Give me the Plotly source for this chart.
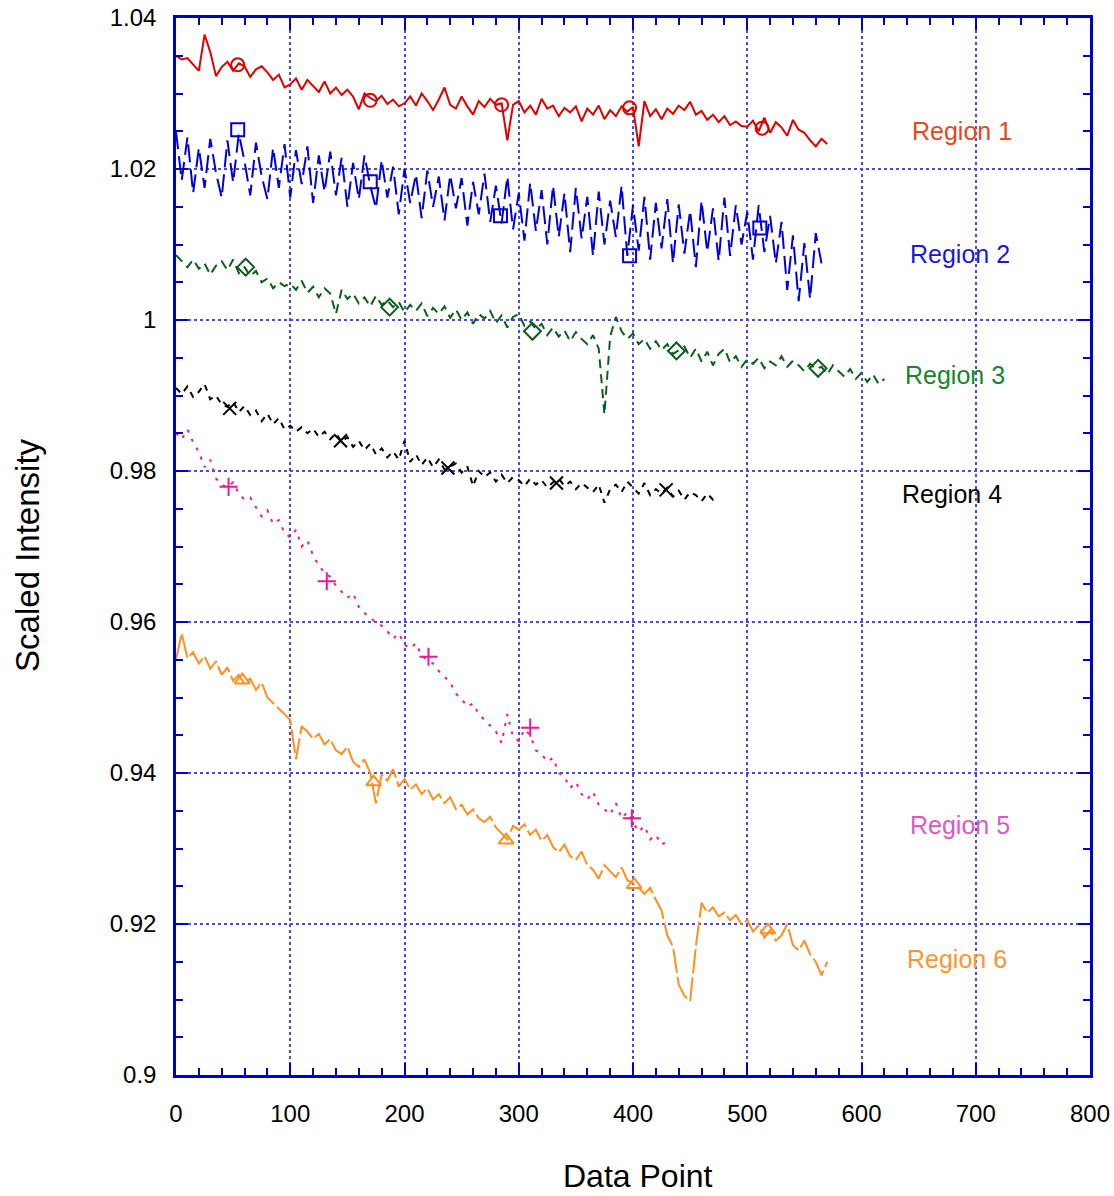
import plotly.graph_objects as go

STEP = 5

region1 = [
    1.0350, 1.0345, 1.0347, 1.0338, 1.0330, 1.0378, 1.0355, 1.0323, 1.0335, 1.0342,
    1.0330, 1.0340, 1.0336, 1.0322, 1.0332, 1.0336, 1.0328, 1.0318, 1.0325, 1.0308,
    1.0312, 1.0320, 1.0305, 1.0318, 1.0310, 1.0302, 1.0316, 1.0300, 1.0308, 1.0298,
    1.0305, 1.0296, 1.0279, 1.0300, 1.0294, 1.0290, 1.0297, 1.0286, 1.0292, 1.0283,
    1.0287, 1.0296, 1.0284, 1.0300, 1.0290, 1.0278, 1.0292, 1.0308, 1.0285, 1.0280,
    1.0296, 1.0283, 1.0272, 1.0290, 1.0282, 1.0293, 1.0285, 1.0287, 1.0238, 1.0285,
    1.0290, 1.0275, 1.0284, 1.0272, 1.0293, 1.0280, 1.0284, 1.0270, 1.0281, 1.0275,
    1.0283, 1.0263, 1.0280, 1.0272, 1.0284, 1.0266, 1.0278, 1.0270, 1.0283, 1.0276,
    1.0282, 1.0230, 1.0290, 1.0270, 1.0279, 1.0266, 1.0280, 1.0273, 1.0284, 1.0278,
    1.0289, 1.0272, 1.0277, 1.0265, 1.0272, 1.0262, 1.0270, 1.0258, 1.0263, 1.0257,
    1.0256, 1.0264, 1.0250, 1.0268, 1.0248, 1.0262, 1.0255, 1.0244, 1.0265, 1.0252,
    1.0248, 1.0238, 1.0230, 1.0240, 1.0233,
]

region2 = [
    1.0250, 1.0185, 1.0242, 1.0168, 1.0228, 1.0175, 1.0240, 1.0195, 1.0162, 1.0238,
    1.0182, 1.0247, 1.0210, 1.0165, 1.0235, 1.0190, 1.0160, 1.0228, 1.0175, 1.0233,
    1.0162, 1.0225, 1.0180, 1.0230, 1.0155, 1.0218, 1.0170, 1.0223, 1.0165, 1.0215,
    1.0150, 1.0208, 1.0160, 1.0218, 1.0178, 1.0148, 1.0212, 1.0162, 1.0203, 1.0140,
    1.0200, 1.0155, 1.0193, 1.0135, 1.0198, 1.0150, 1.0190, 1.0132, 1.0192, 1.0148,
    1.0188, 1.0125, 1.0183, 1.0140, 1.0194, 1.0130, 1.0178, 1.0128, 1.0190, 1.0120,
    1.0168, 1.0105, 1.0182, 1.0118, 1.0172, 1.0100, 1.0178, 1.0110, 1.0168, 1.0090,
    1.0175, 1.0108, 1.0163, 1.0085, 1.0170, 1.0100, 1.0158, 1.0110, 1.0178, 1.0085,
    1.0152, 1.0092, 1.0163, 1.0080, 1.0155, 1.0095, 1.0160, 1.0075, 1.0153, 1.0088,
    1.0145, 1.0070, 1.0158, 1.0090, 1.0148, 1.0078, 1.0162, 1.0085, 1.0152, 1.0100,
    1.0143, 1.0080, 1.0152, 1.0090, 1.0138, 1.0075, 1.0130, 1.0040, 1.0112, 1.0025,
    1.0102, 1.0028, 1.0115, 1.0075,
]

region3 = [
    1.0086, 1.0078, 1.0070, 1.0080, 1.0068, 1.0075, 1.0060, 1.0072, 1.0078, 1.0066,
    1.0080, 1.0062, 1.0070, 1.0058, 1.0065, 1.0050, 1.0055, 1.0042, 1.0050, 1.0045,
    1.0048, 1.0040, 1.0052, 1.0036, 1.0044, 1.0030, 1.0042, 1.0035, 1.0008, 1.0040,
    1.0028, 1.0035, 1.0022, 1.0030, 1.0018, 1.0032, 1.0020, 1.0026, 1.0017, 1.0024,
    1.0010, 1.0020, 1.0012, 1.0022, 1.0005, 1.0016, 1.0008, 1.0018, 1.0003, 1.0014,
    1.0000, 1.0010, 0.9995, 1.0008, 1.0002, 1.0012, 0.9996, 1.0006, 0.9990, 1.0004,
    1.0008, 0.9992, 0.9998, 0.9988, 0.9995, 0.9980, 0.9990, 0.9978, 0.9986, 0.9972,
    0.9984, 0.9975, 0.9968, 0.9980, 0.9962, 0.9875, 0.9978, 1.0004, 0.9985, 0.9975,
    0.9982, 0.9968, 0.9975, 0.9962, 0.9972, 0.9960, 0.9968, 0.9955, 0.9960, 0.9965,
    0.9950, 0.9962, 0.9945, 0.9958, 0.9940, 0.9955, 0.9962, 0.9944, 0.9952, 0.9938,
    0.9948, 0.9942, 0.9950, 0.9936, 0.9945, 0.9940, 0.9952, 0.9938, 0.9946, 0.9940,
    0.9932, 0.9942, 0.9935, 0.9938, 0.9928, 0.9940, 0.9932, 0.9925, 0.9935, 0.9922,
    0.9930, 0.9918, 0.9928, 0.9915, 0.9922,
]

region4 = [
    0.9910, 0.9902, 0.9912, 0.9898, 0.9905, 0.9915, 0.9895, 0.9900, 0.9888, 0.9885,
    0.9892, 0.9878, 0.9886, 0.9874, 0.9880, 0.9866, 0.9876, 0.9862, 0.9870, 0.9855,
    0.9860, 0.9852, 0.9858, 0.9850, 0.9856, 0.9845, 0.9852, 0.9842, 0.9850, 0.9838,
    0.9845, 0.9832, 0.9840, 0.9828, 0.9836, 0.9822, 0.9830, 0.9818, 0.9826, 0.9815,
    0.9840, 0.9812, 0.9822, 0.9808, 0.9818, 0.9805, 0.9815, 0.9802, 0.9806, 0.9810,
    0.9798, 0.9806, 0.9780, 0.9800, 0.9792, 0.9798, 0.9786, 0.9795, 0.9784, 0.9792,
    0.9788, 0.9780, 0.9790, 0.9782, 0.9788, 0.9778, 0.9785, 0.9790, 0.9780, 0.9786,
    0.9776, 0.9784, 0.9778, 0.9772, 0.9782, 0.9758, 0.9776, 0.9782, 0.9772, 0.9786,
    0.9778, 0.9770, 0.9784, 0.9768, 0.9776, 0.9770, 0.9778, 0.9766, 0.9774, 0.9762,
    0.9772, 0.9768, 0.9760, 0.9770, 0.9762, 0.9766,
]

region5 = [
    0.9850, 0.9842, 0.9855, 0.9838, 0.9825, 0.9805, 0.9815, 0.9790, 0.9782, 0.9778,
    0.9785, 0.9770, 0.9762, 0.9765, 0.9752, 0.9740, 0.9748, 0.9730, 0.9735, 0.9718,
    0.9712, 0.9722, 0.9700, 0.9708, 0.9688, 0.9675, 0.9665, 0.9660, 0.9648, 0.9640,
    0.9632, 0.9638, 0.9620, 0.9612, 0.9605, 0.9600, 0.9595, 0.9588, 0.9578, 0.9585,
    0.9570, 0.9565, 0.9572, 0.9555, 0.9550, 0.9545, 0.9535, 0.9528, 0.9520, 0.9505,
    0.9498, 0.9488, 0.9492, 0.9478, 0.9470, 0.9462, 0.9455, 0.9440, 0.9478, 0.9448,
    0.9442, 0.9458, 0.9450, 0.9430, 0.9425, 0.9415, 0.9420, 0.9400, 0.9395, 0.9380,
    0.9388, 0.9372, 0.9365, 0.9375, 0.9358, 0.9352, 0.9345, 0.9360, 0.9340, 0.9348,
    0.9335, 0.9322, 0.9330, 0.9312, 0.9318, 0.9305, 0.9310,
]

region6 = [
    0.9550, 0.9585, 0.9552, 0.9560, 0.9545, 0.9555, 0.9538, 0.9548, 0.9530, 0.9540,
    0.9522, 0.9530, 0.9518, 0.9525, 0.9510, 0.9520, 0.9500, 0.9492, 0.9485, 0.9478,
    0.9470, 0.9418, 0.9462, 0.9455, 0.9445, 0.9452, 0.9438, 0.9445, 0.9430, 0.9425,
    0.9435, 0.9415, 0.9408, 0.9418, 0.9400, 0.9360, 0.9398, 0.9390, 0.9405, 0.9382,
    0.9392, 0.9378, 0.9385, 0.9372, 0.9380, 0.9365, 0.9372, 0.9360, 0.9368, 0.9352,
    0.9358, 0.9345, 0.9352, 0.9340, 0.9335, 0.9342, 0.9328, 0.9320, 0.9312, 0.9330,
    0.9325, 0.9332, 0.9318, 0.9325, 0.9310, 0.9318, 0.9302, 0.9295, 0.9305, 0.9290,
    0.9285, 0.9296, 0.9278, 0.9272, 0.9260, 0.9278, 0.9270, 0.9262, 0.9275, 0.9258,
    0.9254, 0.9248, 0.9240, 0.9248, 0.9232, 0.9218, 0.9185, 0.9170, 0.9120, 0.9105,
    0.9098, 0.9170, 0.9228, 0.9215, 0.9222, 0.9210, 0.9215, 0.9205, 0.9212, 0.9200,
    0.9205, 0.9190, 0.9198, 0.9182, 0.9192, 0.9178, 0.9185, 0.9200, 0.9172, 0.9165,
    0.9178, 0.9160, 0.9150, 0.9132, 0.9150,
]

# symbol markers (data point index, value)
mark1_x = [54, 170, 285, 397, 513]
mark1_y = [1.0338, 1.0291, 1.0285, 1.0281, 1.0254]
mark2_x = [54, 170, 284, 397, 511]
mark2_y = [1.0252, 1.0183, 1.0138, 1.0085, 1.0122]
mark3_x = [61, 187, 312, 438, 562]
mark3_y = [1.0070, 1.0017, 0.9985, 0.9959, 0.9936]
mark4_x = [47, 144, 238, 333, 429]
mark4_y = [0.9883, 0.9840, 0.9804, 0.9784, 0.9775]
mark5_x = [46, 132, 221, 310, 399]
mark5_y = [0.9779, 0.9654, 0.9554, 0.9460, 0.9340]
mark6_x = [58, 173, 289, 401, 518]
mark6_y = [0.9523, 0.9388, 0.9311, 0.9252, 0.9192]

labels = ["Region 1", "Region 2", "Region 3", "Region 4", "Region 5", "Region 6"]
label_x = [688, 686, 682, 679, 686, 684]
label_y = [1.0250, 1.0087, 0.9927, 0.9770, 0.9331, 0.9154]

x_ticks = [0, 100, 200, 300, 400, 500, 600, 700, 800]
y_ticks = [0.90, 0.92, 0.94, 0.96, 0.98, 1.00, 1.02, 1.04]
y_ticktext = ["0.9", "0.92", "0.94", "0.96", "0.98", "1", "1.02", "1.04"]

series = [region1, region2, region3, region4, region5, region6]
marks = [(mark1_x, mark1_y), (mark2_x, mark2_y), (mark3_x, mark3_y),
         (mark4_x, mark4_y), (mark5_x, mark5_y), (mark6_x, mark6_y)]
line_colors = ["#e00000", "#0000dd", "#0b5e1c", "#000000", "#f01890", "#ff9020"]
label_colors = ["#e8471c", "#1a1ad6", "#18862a", "#000000", "#e257c2", "#ff9530"]
dashes = ["solid", "18px,7px", "9px,6px", "6px,6px", "3px,7px", "24px,4px"]
symbols = ["circle-open", "square-open", "diamond-open", "x-thin-open",
           "cross-thin-open", "triangle-up-open"]

FONT = "Liberation Sans"

fig = go.Figure()
for ys, col, dash in zip(series, line_colors, dashes):
    xs = [i * STEP for i in range(len(ys))]
    fig.add_trace(go.Scatter(x=xs, y=ys, mode="lines",
                             line=dict(color=col, width=2, dash=dash),
                             showlegend=False, hoverinfo="skip"))
for (mx, my), col, sym in zip(marks, line_colors, symbols):
    fig.add_trace(go.Scatter(x=mx, y=my, mode="markers",
                             marker=dict(symbol=sym, size=13, color=col,
                                         line=dict(color=col, width=2)),
                             showlegend=False, hoverinfo="skip"))

for t, lx, ly, c in zip(labels, label_x, label_y, label_colors):
    fig.add_annotation(x=lx, y=ly, text=t, showarrow=False,
                       font=dict(size=25, color=c, family=FONT),
                       xanchor="center", yanchor="middle")

axis_common = dict(
    showline=True, linecolor="#0000cc", linewidth=2.5, mirror="allticks",
    ticks="inside", tickcolor="#0000cc", tickwidth=2, ticklen=12,
    showgrid=True, gridcolor="#4a4ae0", gridwidth=2, griddash="dot",
    zeroline=False, automargin=False,
    tickfont=dict(size=24, color="#000000", family=FONT),
)

fig.update_xaxes(range=[0, 800], tickvals=x_ticks, ticktext=[str(v) for v in x_ticks],
                 minor=dict(dtick=20, ticks="inside", ticklen=7, tickcolor="#0000cc",
                            tickwidth=2, showgrid=False),
                 ticklabelstandoff=15, **axis_common)
fig.update_yaxes(range=[0.9, 1.04], tickvals=y_ticks, ticktext=y_ticktext,
                 minor=dict(dtick=0.005, tick0=0.9, ticks="inside", ticklen=7,
                            tickcolor="#0000cc", tickwidth=2, showgrid=False),
                 ticklabelstandoff=12, **axis_common)

fig.add_annotation(xref="paper", yref="paper", x=0.505, y=-0.0955, text="Data Point",
                   showarrow=False, font=dict(size=32, color="#000000", family=FONT),
                   xanchor="center", yanchor="middle")
fig.add_annotation(xref="paper", yref="paper", x=-0.162, y=0.492, text="Scaled Intensity",
                   showarrow=False, textangle=-90,
                   font=dict(size=33, color="#000000", family=FONT),
                   xanchor="center", yanchor="middle")

fig.update_layout(
    width=1114, height=1196,
    margin=dict(l=176, r=24, t=18, b=121),
    plot_bgcolor="#ffffff", paper_bgcolor="#ffffff",
    showlegend=False,
)

fig.write_html("out.html")
